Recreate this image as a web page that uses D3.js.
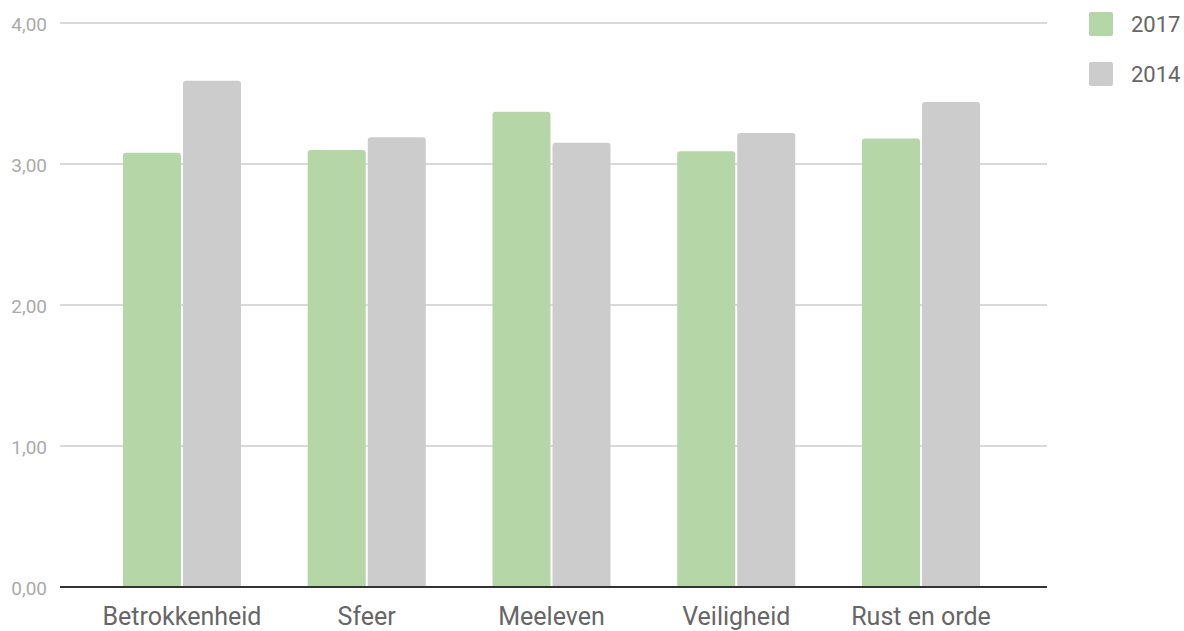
<!DOCTYPE html>
<html>
<head>
<meta charset="utf-8">
<script src="https://cdn.jsdelivr.net/npm/d3@7"></script>
<style>
body { margin: 0; background: #fff; }
svg { font-family: Roboto, sans-serif; }
</style>
</head>
<body>
<svg id="chart" width="1184" height="631"></svg>
<script>
// data
var categories = ["Betrokkenheid", "Sfeer", "Meeleven", "Veiligheid", "Rust en orde"];
var seriesNames = ["2017", "2014"];
var values2017 = [3.08, 3.10, 3.37, 3.09, 3.18];
var values2014 = [3.59, 3.19, 3.15, 3.22, 3.44];
var yTicks = [0, 1, 2, 3, 4];

var colors = { "2017": "#b5d7a8", "2014": "#cccccc" };
var seriesValues = { "2017": values2017, "2014": values2014 };

var svg = d3.select("#chart");

var gridLeft = 60, gridRight = 1047;
var plotTop = 23, plotBottom = 587;

var x0 = d3.scaleBand().domain(categories)
	.range([89.6, 1013.4]).paddingInner(0.361).paddingOuter(0.1805);
var x1 = d3.scaleBand().domain(seriesNames)
	.range([0, x0.bandwidth()]).paddingInner(0.0333);
var y = d3.scaleLinear().domain([0, 4]).range([plotBottom, plotTop]);

//gridlines
svg.append("g").selectAll("line")
	.data(yTicks.filter(function(d) { return d > 0; }))
	.enter().append("line")
	.attr("x1", gridLeft).attr("x2", gridRight)
	.attr("y1", function(d) { return y(d); })
	.attr("y2", function(d) { return y(d); })
	.attr("stroke", "#cccccc").attr("stroke-width", 1.5);

//y labels
var fmt = function(d) { return d3.format(".2f")(d).replace(".", ","); };
svg.append("g").selectAll("text")
	.data(yTicks)
	.enter().append("text")
	.attr("x", 47)
	.attr("y", function(d) { return y(d) + 8; })
	.attr("text-anchor", "end")
	.attr("font-size", 19)
	.attr("fill", "#aaaaaa")
	.text(fmt);

//bars, rounded on top
function barPath(x, yt, w, yb, r) {
	return "M" + x + "," + yb +
		"V" + (yt + r) +
		"Q" + x + "," + yt + " " + (x + r) + "," + yt +
		"H" + (x + w - r) +
		"Q" + (x + w) + "," + yt + " " + (x + w) + "," + (yt + r) +
		"V" + yb + "Z";
}

var rows = [];
categories.forEach(function(c, i) {
	seriesNames.forEach(function(s) {
		rows.push({ cat: c, series: s, value: seriesValues[s][i] });
	});
});

svg.append("g").selectAll("path")
	.data(rows)
	.enter().append("path")
	.attr("fill", function(d) { return colors[d.series]; })
	.attr("d", function(d) {
		return barPath(x0(d.cat) + x1(d.series), y(d.value), x1.bandwidth(), y(0), 3);
	});

//baseline
svg.append("line")
	.attr("x1", gridLeft).attr("x2", gridRight)
	.attr("y1", y(0)).attr("y2", y(0))
	.attr("stroke", "#333333").attr("stroke-width", 2);

//x labels
svg.append("g").selectAll("text")
	.data(categories)
	.enter().append("text")
	.attr("x", function(d) { return x0(d) + x0.bandwidth() / 2; })
	.attr("y", 625)
	.attr("text-anchor", "middle")
	.attr("font-size", 25)
	.attr("fill", "#666666")
	.text(function(d) { return d; });

//legend
var legend = svg.append("g").selectAll("g")
	.data(seriesNames)
	.enter().append("g")
	.attr("transform", function(d, i) { return "translate(1089," + (12 + i * 50) + ")"; });

legend.append("rect")
	.attr("width", 24).attr("height", 24).attr("rx", 2)
	.attr("fill", function(d) { return colors[d]; });

legend.append("text")
	.attr("x", 42).attr("y", 20)
	.attr("font-size", 22)
	.attr("fill", "#666666")
	.text(function(d) { return d; });
</script>
</body>
</html>
